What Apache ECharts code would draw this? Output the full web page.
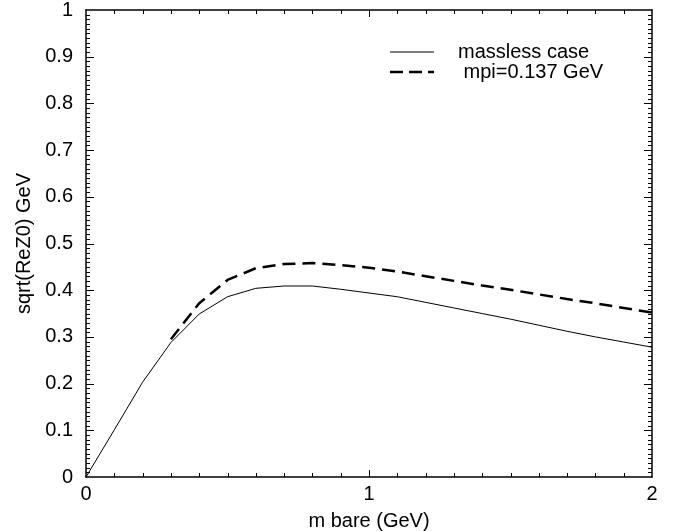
<!DOCTYPE html>
<html><head><meta charset="utf-8">
<script src="https://cdn.jsdelivr.net/npm/echarts@6/dist/echarts.min.js"></script>
<style>html,body{margin:0;padding:0;background:#fff}#c{width:673px;height:531px}</style>
</head><body><div id="c"></div>
<script>
const masslessX = [0, 0.1, 0.2, 0.3, 0.4, 0.5, 0.6, 0.7, 0.8, 0.9, 1.0, 1.1, 1.2, 1.3, 1.4, 1.5, 1.6, 1.7, 1.8, 1.9, 2.0];
const masslessY = [0, 0.101, 0.203, 0.288, 0.349, 0.386, 0.404, 0.409, 0.409, 0.402, 0.394, 0.386, 0.374, 0.362, 0.350, 0.338, 0.325, 0.312, 0.300, 0.289, 0.278];
const mpiX = [0.3, 0.4, 0.5, 0.6, 0.7, 0.8, 0.9, 1.0, 1.1, 1.2, 1.3, 1.4, 1.5, 1.6, 1.7, 1.8, 1.9, 2.0];
const mpiY = [0.295, 0.372, 0.422, 0.447, 0.456, 0.458, 0.454, 0.448, 0.440, 0.430, 0.420, 0.410, 0.401, 0.391, 0.381, 0.372, 0.362, 0.352];
const seriesNames = ['massless case', 'mpi=0.137 GeV'];
const xName = 'm bare (GeV)';
const yName = 'sqrt(ReZ0) GeV';

const font = '"Liberation Sans", Arial, Helvetica, sans-serif';
const zip = (xs, ys) => xs.map((x, i) => [x, ys[i]]);
const chart = echarts.init(document.getElementById('c'));
const axisLine = {show: true, onZero: false, lineStyle: {color: '#000', width: 1.5}};
const baseX = {
  type: 'value', min: 0, max: 2, interval: 1,
  axisLine: axisLine, axisTick: {show: false}, minorTick: {show: false}, splitLine: {show: false}
};
const baseY = {
  type: 'value', min: 0, max: 1, interval: 0.1,
  axisLine: axisLine, axisTick: {show: false}, minorTick: {show: false}, splitLine: {show: false}
};
const solidIcon = 'path://M0,0H0.01V0.01H0Z M0,0.7H44V1.8H0Z M43.99,2.49H44V2.5H43.99Z';
const dashIcon = 'path://M0,0H13V2.5H0Z M19,0H32V2.5H19Z M38,0H44V2.5H38Z';
chart.setOption({
  animation: false,
  backgroundColor: '#fff',
  grid: {left: 86, right: 21, top: 10, bottom: 54, containLabel: false, outerBoundsMode: 'none'},
  legend: {
    orient: 'vertical', left: 385, top: 37, itemWidth: 44, itemHeight: 2.5, itemGap: 0,
    textStyle: {fontFamily: font, fontSize: 20, lineHeight: 20, color: '#000', padding: [0, 0, 0, 19]},
    formatter: n => (n === seriesNames[1] ? ' ' + n : n),
    data: [{name: seriesNames[0], icon: solidIcon}, {name: seriesNames[1], icon: dashIcon}]
  },
  xAxis: [
    Object.assign({}, baseX, {
      position: 'bottom',
      name: xName, nameLocation: 'middle', nameGap: 34,
      nameTextStyle: {fontFamily: font, fontSize: 20, color: '#000'},
      axisLabel: {show: true, margin: 7, fontFamily: font, fontSize: 20, color: '#000',
        formatter: v => String(v)}
    }),
    Object.assign({}, baseX, {position: 'top', axisLabel: {show: false}})
  ],
  yAxis: [
    Object.assign({}, baseY, {
      position: 'left',
      name: yName, nameLocation: 'middle', nameGap: 47, nameRotate: 90,
      nameTextStyle: {fontFamily: font, fontSize: 20, color: '#000'},
      axisLabel: {show: true, margin: 13, fontFamily: font, fontSize: 20, color: '#000',
        formatter: v => String(Math.round(v * 10) / 10)}
    }),
    Object.assign({}, baseY, {position: 'right', axisLabel: {show: false}})
  ],
  series: [
    {name: seriesNames[0], type: 'line', data: zip(masslessX, masslessY), showSymbol: false, symbol: 'none',
      lineStyle: {color: '#000', width: 1}, itemStyle: {color: '#000'}},
    {name: seriesNames[1], type: 'line', data: zip(mpiX, mpiY), showSymbol: false, symbol: 'none',
      lineStyle: {color: '#000', width: 2.5, type: [13, 7]}, itemStyle: {color: '#000'}}
  ]
});

// Inward frame ticks on all four sides, positioned through the chart's own scales.
const toPx = (x, y) => chart.convertToPixel({gridIndex: 0}, [x, y]);
const tickEls = [];
const tickStyle = {stroke: '#000', lineWidth: 1};
for (let i = 1; i < 100; i++) {           // y: major every 0.1, minor every 0.01
  const v = i / 100, len = (i % 10 === 0) ? 8 : 4;
  const pl = toPx(0, v), pr = toPx(2, v);
  const yy = Math.round(pl[1]) + 0.5;
  tickEls.push({type: 'line', silent: true, shape: {x1: pl[0], y1: yy, x2: pl[0] + len, y2: yy}, style: tickStyle});
  tickEls.push({type: 'line', silent: true, shape: {x1: pr[0], y1: yy, x2: pr[0] - len, y2: yy}, style: tickStyle});
}
for (let i = 1; i < 20; i++) {            // x: major every 1, minor every 0.1
  const v = i / 10, len = (i % 10 === 0) ? 7 : 4;
  const pb = toPx(v, 0), pt = toPx(v, 1);
  const xx = Math.round(pb[0]) + 0.5;
  tickEls.push({type: 'line', silent: true, shape: {x1: xx, y1: pb[1], x2: xx, y2: pb[1] - len}, style: tickStyle});
  tickEls.push({type: 'line', silent: true, shape: {x1: xx, y1: pt[1], x2: xx, y2: pt[1] + len}, style: tickStyle});
}
chart.setOption({graphic: {elements: tickEls}});
</script></body></html>
